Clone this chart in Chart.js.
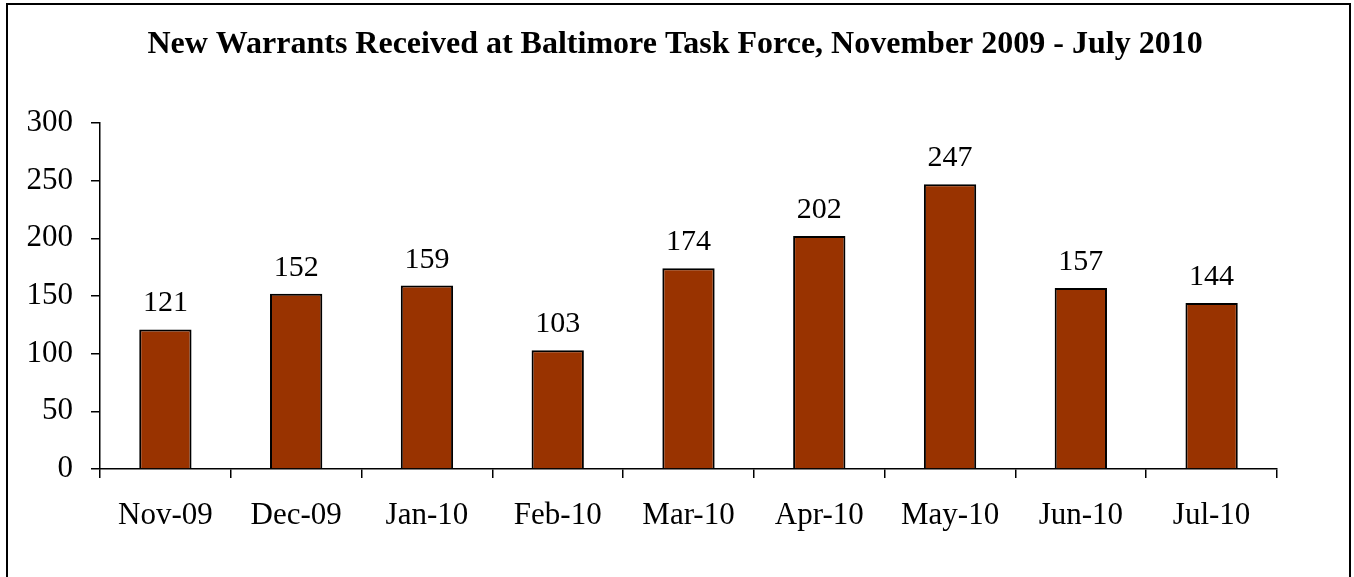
<!DOCTYPE html>
<html>
<head>
<meta charset="utf-8">
<script src="https://cdn.jsdelivr.net/npm/chart.js@4"></script>
<style>
  html, body { margin: 0; padding: 0; background: #fff; }
  #wrap { width: 1354px; height: 577px; position: relative; }
</style>
</head>
<body>
<div id="wrap"><canvas id="chart1"></canvas></div>
<script>
const categories = ["Nov-09", "Dec-09", "Jan-10", "Feb-10", "Mar-10", "Apr-10", "May-10", "Jun-10", "Jul-10"];
const warrants = [121, 152, 159, 103, 174, 202, 247, 157, 144];
const yTicks = [0, 50, 100, 150, 200, 250, 300];
const titleText = "New Warrants Received at Baltimore Task Force, November 2009 - July 2010";

const SERIF = "'Liberation Serif', 'Times New Roman', serif";

// frame + title
const frame = {
    id: 'frame',
    beforeDraw(chart) {
        const ctx = chart.ctx;
        ctx.save();
        ctx.fillStyle = '#fff';
        ctx.fillRect(0, 0, chart.width, chart.height);
        ctx.strokeStyle = '#000';
        ctx.lineWidth = 2;
        ctx.strokeRect(7, 4, 1343, 600);
        ctx.fillStyle = '#000';
        ctx.font = "bold 32px " + SERIF;
        ctx.textAlign = 'center';
        ctx.textBaseline = 'alphabetic';
        ctx.fillText(titleText, 675, 53);
        ctx.restore();
    }
};

// numbers above bars
const barLabels = {
    id: 'barLabels',
    afterDatasetsDraw(chart) {
        const ctx = chart.ctx;
        const meta = chart.getDatasetMeta(0);
        ctx.save();
        ctx.fillStyle = '#000';
        ctx.font = "30px " + SERIF;
        ctx.textAlign = 'center';
        ctx.textBaseline = 'alphabetic';
        meta.data.forEach((bar, i) => {
            ctx.fillText(String(warrants[i]), bar.x, bar.y - 18);
        });
        ctx.restore();
    }
};

new Chart(document.getElementById("chart1"), {
    type: 'bar',
    data: {
        labels: categories,
        datasets: [{
            data: warrants,
            backgroundColor: '#993300',
            borderColor: '#000',
            borderWidth: 2,
            barPercentage: 0.4,
            categoryPercentage: 1
        }]
    },
    options: {
        responsive: true,
        maintainAspectRatio: false,
        animation: false,
        layout: { padding: { left: 10, top: 123, right: 77, bottom: 0 } },
        plugins: {
            legend: { display: false },
            title: { display: false },
            tooltip: { enabled: false }
        },
        scales: {
            x: {
                offset: true,
                grid: { offset: true, drawOnChartArea: false, color: '#000', lineWidth: 1.5, tickLength: 9 },
                border: { color: '#000', width: 1.5 },
                ticks: { color: '#000', font: { family: SERIF, size: 31 }, padding: 19, maxRotation: 0 },
                afterFit(scale) { scale.height = 108; }
            },
            y: {
                min: 0,
                max: 300,
                afterBuildTicks(scale) { scale.ticks = yTicks.map(v => ({ value: v })); },
                grid: { drawOnChartArea: false, color: '#000', lineWidth: 1.5, tickLength: 9 },
                border: { color: '#000', width: 1.5 },
                ticks: { color: '#000', font: { family: SERIF, size: 31 }, padding: 18 },
                afterFit(scale) { scale.width = 90; }
            }
        }
    },
    plugins: [frame, barLabels]
});
</script>
</body>
</html>
